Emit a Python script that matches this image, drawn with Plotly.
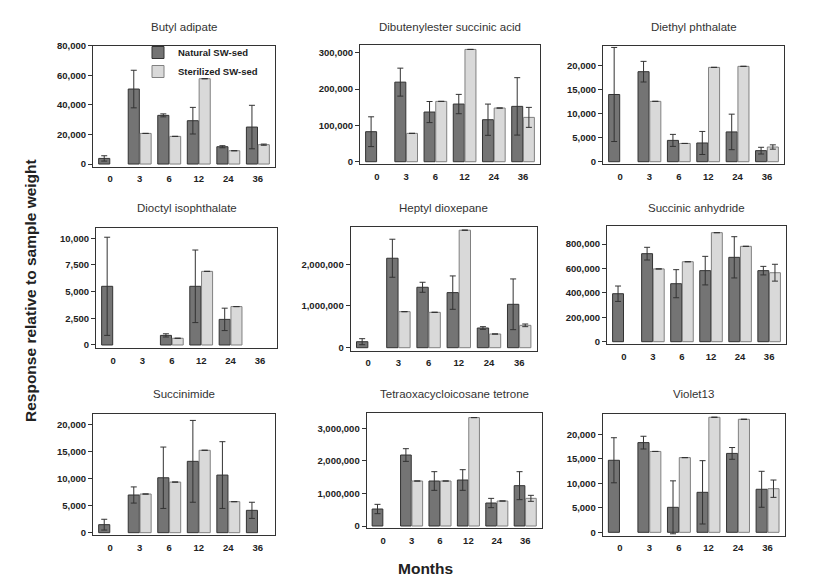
import plotly.graph_objects as go

months = ["0", "3", "6", "12", "24", "36"]
compounds = ["Butyl adipate", "Dibutenylester succinic acid", "Diethyl phthalate",
             "Dioctyl isophthalate", "Heptyl dioxepane", "Succinic anhydride",
             "Succinimide", "Tetraoxacycloicosane tetrone", "Violet13"]

# Natural SW-sed means and errors
butyl_nat = [3800, 50700, 32900, 29300, 11700, 25000]
butyl_nat_err = [1800, 12700, 1000, 9000, 700, 14700]
butyl_ster = [None, 20700, 18700, 57700, 9000, 13100]
butyl_ster_err = [None, None, None, None, None, 400]

dibut_nat = [82600, 219000, 136700, 158700, 115600, 152300]
dibut_nat_err = [41000, 38500, 29000, 26600, 43000, 79000]
dibut_ster = [None, 78000, 166000, 309000, 147700, 122000]
dibut_ster_err = [None, None, None, None, None, 27500]

diethyl_nat = [14000, 18750, 4440, 3900, 6200, 2300]
diethyl_nat_err = [9800, 2150, 1250, 2400, 3700, 700]
diethyl_ster = [None, 12570, 3800, 19650, 19860, 3060]
diethyl_ster_err = [None, None, None, None, None, 450]

dioctyl_nat = [5500, None, 900, 5500, 2400, None]
dioctyl_nat_err = [4600, None, 150, 3400, 1050, None]
dioctyl_ster = [None, None, 630, 6900, 3600, None]
dioctyl_ster_err = [None, None, None, None, None, None]

heptyl_nat = [144000, 2144000, 1448000, 1320000, 472000, 1040000]
heptyl_nat_err = [72000, 456000, 120000, 400000, 32000, 608000]
heptyl_ster = [None, 864000, 848000, 2816000, 328000, 536000]
heptyl_ster_err = [None, None, None, None, None, 32000]

succan_nat = [393000, 721000, 475000, 582000, 691000, 582000]
succan_nat_err = [63000, 52000, 115000, 117000, 169000, 35000]
succan_ster = [None, 596000, 655000, 893000, 781000, 565000]
succan_ster_err = [None, None, None, None, None, 69000]

succim_nat = [1490, 7000, 10200, 13250, 10700, 4150]
succim_nat_err = [1000, 1500, 5700, 7600, 6200, 1500]
succim_ster = [None, 7180, 9400, 15300, 5760, None]
succim_ster_err = [None, None, None, None, None, None]

tetra_nat = [522000, 2180000, 1382000, 1413000, 706000, 1239000]
tetra_nat_err = [143000, 195000, 287000, 317000, 143000, 430000]
tetra_ster = [None, 1382000, 1382000, 3330000, 768000, 850000]
tetra_ster_err = [None, None, None, None, None, 92000]

violet_nat = [14700, 18300, 5100, 8160, 16100, 8780]
violet_nat_err = [4600, 1300, 5400, 6460, 1200, 3670]
violet_ster = [None, 16500, 15240, 23470, 23060, 8900]
violet_ster_err = [None, None, None, None, None, 1770]

nat_vals = [butyl_nat, dibut_nat, diethyl_nat, dioctyl_nat, heptyl_nat, succan_nat, succim_nat, tetra_nat, violet_nat]
nat_errs = [butyl_nat_err, dibut_nat_err, diethyl_nat_err, dioctyl_nat_err, heptyl_nat_err, succan_nat_err, succim_nat_err, tetra_nat_err, violet_nat_err]
ster_vals = [butyl_ster, dibut_ster, diethyl_ster, dioctyl_ster, heptyl_ster, succan_ster, succim_ster, tetra_ster, violet_ster]
ster_errs = [butyl_ster_err, dibut_ster_err, diethyl_ster_err, dioctyl_ster_err, heptyl_ster_err, succan_ster_err, succim_ster_err, tetra_ster_err, violet_ster_err]

ytick_vals = [
    [0, 20000, 40000, 60000, 80000],
    [0, 100000, 200000, 300000],
    [0, 5000, 10000, 15000, 20000],
    [0, 2500, 5000, 7500, 10000],
    [0, 1000000, 2000000],
    [0, 200000, 400000, 600000, 800000],
    [0, 5000, 10000, 15000, 20000],
    [0, 1000000, 2000000, 3000000],
    [0, 5000, 10000, 15000, 20000],
]

# ---- layout (pixel geometry) ----
W, H = 826, 586
# (left, right, top, bottom) in px
boxes = [
    (93, 275, 45.7, 166.7), (360, 540, 45, 164), (603, 784, 46, 164),
    (96, 277, 228, 348.3), (350.7, 536.7, 226.7, 350.7), (607, 786, 225.7, 344.3),
    (93, 275, 414, 535), (366.7, 541.7, 412.7, 528.3), (602.7, 784.7, 414, 535.7),
]
yranges = [
    (-1800, 80000), (-6300, 321200), (-480, 24100),
    (-310, 10965), (-72000, 2900000), (-21300, 950000),
    (-430, 22040), (-70500, 3480000), (-690, 24140),
]
title_y = [27, 27, 27, 208, 208, 208, 394, 394, 394]

NAT_FILL, NAT_EDGE = "#747474", "#333333"
STER_FILL, STER_EDGE = "#d9d9d9", "#808080"
ERR = "#333333"
FONT = "Liberation Sans, Arial"

fig = go.Figure()
annotations = []
for i in range(9):
    xa = "x" if i == 0 else f"x{i+1}"
    ya = "y" if i == 0 else f"y{i+1}"
    fig.add_trace(go.Bar(
        x=months, y=nat_vals[i], xaxis=xa, yaxis=ya, name="Natural SW-sed",
        showlegend=(i == 0),
        marker=dict(color=NAT_FILL, line=dict(color=NAT_EDGE, width=1)),
        error_y=dict(type="data", array=nat_errs[i], color=ERR, thickness=1, width=3),
    ))
    fig.add_trace(go.Bar(
        x=months, y=ster_vals[i], xaxis=xa, yaxis=ya, name="Sterilized SW-sed",
        showlegend=(i == 0),
        marker=dict(color=STER_FILL, line=dict(color=STER_EDGE, width=1)),
        error_y=dict(type="data", array=ster_errs[i], color=ERR, thickness=1, width=3),
    ))
    l, r, t, b = boxes[i]
    axis_common = dict(showline=True, linecolor="#333333", linewidth=1.2, mirror=True,
                       showgrid=False, zeroline=False, automargin=False)
    fig.layout[xa.replace("x", "xaxis")] = dict(
        domain=[l / W, r / W], anchor=ya, type="category", range=[-0.58, 5.58],
        ticks="", ticklabelstandoff=3,
        tickfont=dict(family=FONT, size=9.5, color="#222222", weight="bold"),
        **axis_common)
    fig.layout[ya.replace("y", "yaxis")] = dict(
        domain=[1 - b / H, 1 - t / H], anchor=xa, range=list(yranges[i]),
        tickvals=ytick_vals[i], tickformat=",", ticks="outside", ticklen=4, tickwidth=1,
        tickcolor="#333333",
        tickfont=dict(family=FONT, size=9.5, color="#222222", weight="bold"),
        **axis_common)
    annotations.append(dict(
        text=compounds[i], x=(l + r) / 2 / W, y=1 - title_y[i] / H, xref="paper", yref="paper",
        showarrow=False, xanchor="center", yanchor="middle",
        font=dict(family=FONT, size=11.5, color="#333333")))

annotations.append(dict(
    text="<b>Response relative to sample weight</b>", x=31 / W, y=1 - 291 / H,
    xref="paper", yref="paper", showarrow=False, textangle=-90,
    xanchor="center", yanchor="middle",
    font=dict(family=FONT, size=15.5, color="#222222")))
annotations.append(dict(
    text="<b>Months</b>", x=425 / W, y=1 - 568 / H,
    xref="paper", yref="paper", showarrow=False, xanchor="center", yanchor="middle",
    font=dict(family=FONT, size=15.5, color="#222222")))

fig.update_layout(
    template="none",
    width=W, height=H, margin=dict(l=0, r=0, t=0, b=0, autoexpand=False),
    paper_bgcolor="white", plot_bgcolor="white",
    barmode="group", bargap=0.2, bargroupgap=0.06,
    annotations=annotations,
    legend=dict(x=138 / W, y=1 - 38 / H, xanchor="left", yanchor="top",
                bgcolor="rgba(0,0,0,0)", tracegroupgap=0,
                font=dict(family=FONT, size=9.5, color="#222222", weight="bold")),
)

fig.write_html("out.html", config={"displayModeBar": False},
               post_script="document.body.style.margin='0';document.body.style.padding='0';")
